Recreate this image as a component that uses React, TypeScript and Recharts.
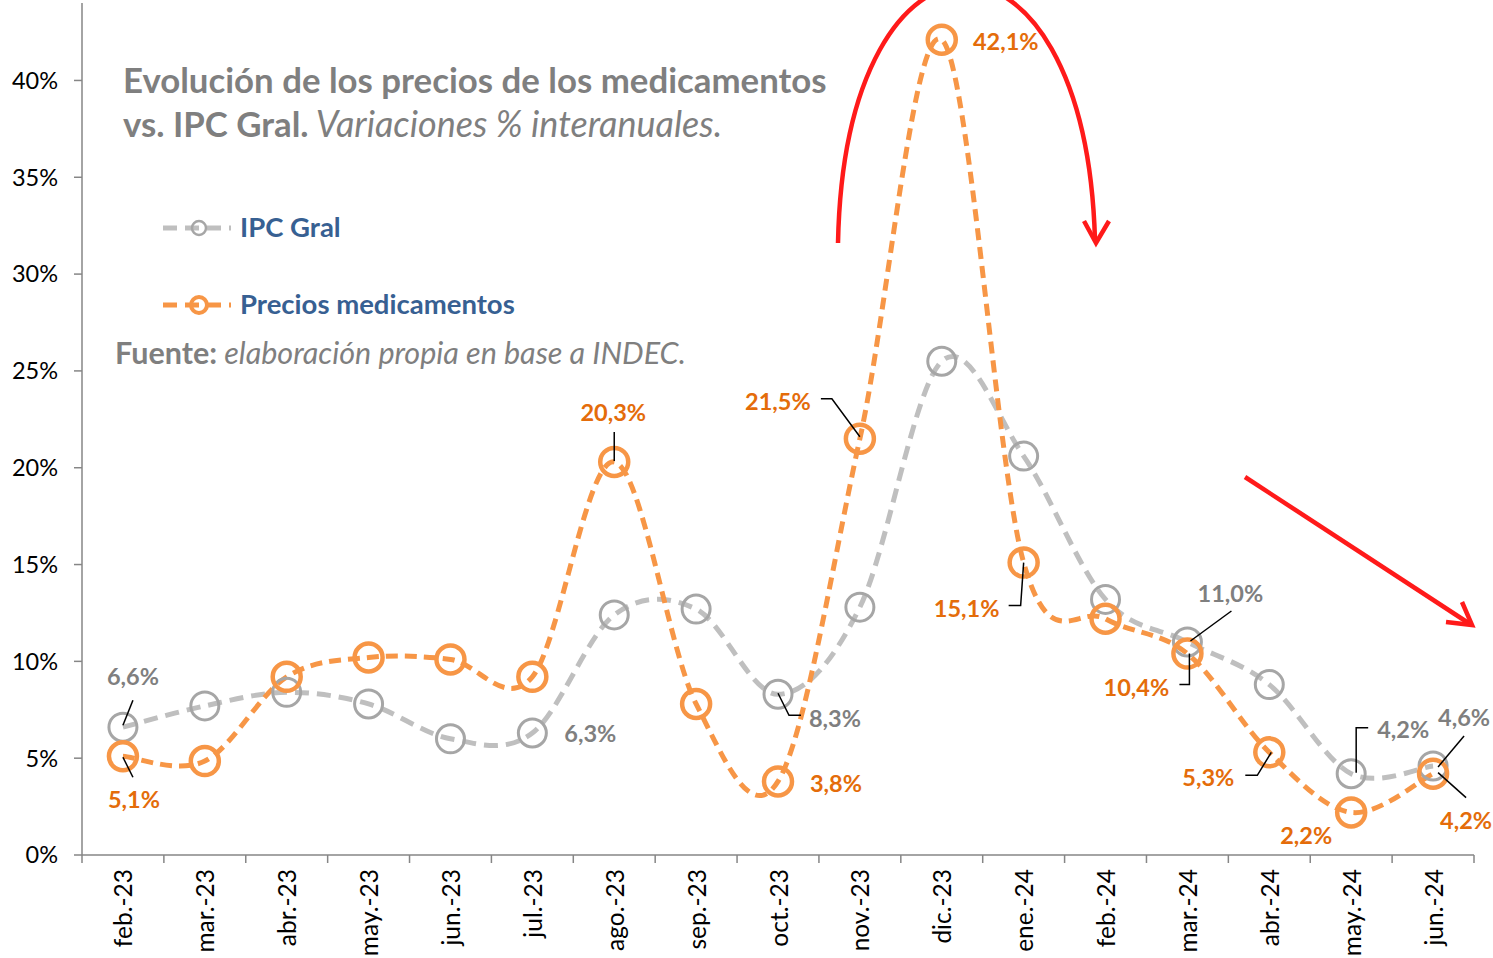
import React from 'react'
import { LineChart, Line, XAxis, YAxis, LabelList } from 'recharts'

const months = [
  'feb.-23', 'mar.-23', 'abr.-23', 'may.-23', 'jun.-23', 'jul.-23', 'ago.-23', 'sep.-23', 'oct.-23',
  'nov.-23', 'dic.-23', 'ene.-24', 'feb.-24', 'mar.-24', 'abr.-24', 'may.-24', 'jun.-24',
]
const ipcGral = [6.6, 7.7, 8.4, 7.8, 6.0, 6.3, 12.4, 12.7, 8.3, 12.8, 25.5, 20.6, 13.2, 11.0, 8.8, 4.2, 4.6]
const medicamentos = [5.1, 4.85, 9.2, 10.2, 10.1, 9.2, 20.3, 7.8, 3.8, 21.5, 42.1, 15.1, 12.2, 10.4, 5.3, 2.2, 4.2]
const yTicks = [0, 5, 10, 15, 20, 25, 30, 35, 40]

const data = months.map((m, i) => ({ month: m, ipc: ipcGral[i], med: medicamentos[i] }))

const W = 1493
const H = 958
const MARGIN = { top: 3, right: 19, left: 0, bottom: 0 }
const Y_AXIS_W = 82
const X_AXIS_H = 103
const BAND = (W - MARGIN.right - Y_AXIS_W) / months.length

const FONT = 'Lato, "Noto Sans", sans-serif'
const GRAY_LINE = '#BFBFBF'
const GRAY_DOT = '#A6A6A6'
const GRAY_TEXT = '#7F7F7F'
const ORANGE = '#F79646'
const ORANGE_TEXT = '#E46C0A'
const AXIS = '#868686'
const BLUE = '#376092'
const RED = '#FF1A1A'

// where each data label sits relative to its point, plus the leader line
type LabelPos = { dx: number; dy: number; leader?: [number, number][] }
const ipcLabels: Record<number, LabelPos> = {
  0: { dx: 10, dy: -51, leader: [[0, -2], [10, -27]] },
  5: { dx: 58, dy: 0 },
  8: { dx: 57, dy: 24, leader: [[0, -1], [11, 21], [23, 21]] },
  13: { dx: 43, dy: -49, leader: [[3, -1], [44, -31]] },
  15: { dx: 52, dy: -45, leader: [[5, -1], [5, -46], [17, -46]] },
  16: { dx: 31, dy: -49, leader: [[5, 1], [31, -30]] },
}
const medLabels: Record<number, LabelPos> = {
  0: { dx: 11, dy: 43, leader: [[0, 1], [10, 21]] },
  6: { dx: -1, dy: -50, leader: [[0, -1], [0, -30]] },
  8: { dx: 58, dy: 2 },
  9: { dx: -82, dy: -38, leader: [[0, -2], [-28, -40], [-39, -40]] },
  10: { dx: 64, dy: 1 },
  11: { dx: -57, dy: 45, leader: [[0, 0], [-3, 43], [-15, 43]] },
  13: { dx: -51, dy: 33, leader: [[2, 0], [2, 31], [-8, 31]] },
  14: { dx: -61, dy: 25, leader: [[2, 0], [-12, 23], [-24, 23]] },
  15: { dx: -45, dy: 23 },
  16: { dx: 33, dy: 46, leader: [[5, -1], [33, 24]] },
}

const fmt = (v: number) => `${v.toFixed(1).replace('.', ',')}%`

// Excel-style smoothed line (Catmull-Rom through every point)
function smoothCurve(context: any) {
  let pts: [number, number][] = []
  return {
    areaStart() {},
    areaEnd() {},
    lineStart() {
      pts = []
    },
    point(x: number, y: number) {
      pts.push([+x, +y])
    },
    lineEnd() {
      if (!pts.length) return
      context.moveTo(pts[0][0], pts[0][1])
      for (let i = 0; i < pts.length - 1; i++) {
        const p0 = pts[i - 1] || pts[i]
        const p1 = pts[i]
        const p2 = pts[i + 1]
        const p3 = pts[i + 2] || p2
        context.bezierCurveTo(
          p1[0] + (p2[0] - p0[0]) / 6,
          p1[1] + (p2[1] - p0[1]) / 6,
          p2[0] - (p3[0] - p1[0]) / 6,
          p2[1] - (p3[1] - p1[1]) / 6,
          p2[0],
          p2[1],
        )
      }
    },
  }
}

function makeDot(stroke: string, strokeWidth: number) {
  return (props: any) => (
    <circle
      key={`dot-${props.index}`}
      cx={props.cx}
      cy={props.cy}
      r={14}
      fill="none"
      stroke={stroke}
      strokeWidth={strokeWidth}
    />
  )
}

function makeLabel(cfg: Record<number, LabelPos>, color: string) {
  return (props: any) => {
    const { x, y, value, index } = props
    const c = cfg[index]
    if (!c) return null
    return (
      <g key={`lbl-${index}`}>
        {c.leader && (
          <polyline
            points={c.leader.map(([a, b]) => `${x + a},${y + b}`).join(' ')}
            fill="none"
            stroke="#000"
            strokeWidth={1.5}
          />
        )}
        <text
          x={x + c.dx}
          y={y + c.dy}
          textAnchor="middle"
          dominantBaseline="central"
          fontFamily={FONT}
          fontWeight={700}
          fontSize={23.5}
          fill={color}
        >
          {fmt(value)}
        </text>
      </g>
    )
  }
}

function MonthTick(props: any) {
  const { x, y, payload, index } = props
  return (
    <g>
      <line x1={x - BAND / 2} x2={x - BAND / 2} y1={y} y2={y + 8} stroke={AXIS} strokeWidth={1.5} />
      {index === months.length - 1 && (
        <line x1={x + BAND / 2} x2={x + BAND / 2} y1={y} y2={y + 8} stroke={AXIS} strokeWidth={1.5} />
      )}
      <text
        transform={`translate(${x},${y + 14}) rotate(-90)`}
        textAnchor="end"
        dominantBaseline="central"
        fontFamily={FONT}
        fontSize={24.5}
        fill="#000"
      >
        {payload.value}
      </text>
    </g>
  )
}

function Overlay() {
  return (
    <svg width={W} height={H} style={{ position: 'absolute', left: 0, top: 0, pointerEvents: 'none' }}>
      <g fontFamily={FONT} fill={GRAY_TEXT}>
        <text x={123} y={93} fontSize={34.8} fontWeight={700}>
          Evolución de los precios de los medicamentos
        </text>
        <text x={123} y={137} fontSize={34.8}>
          <tspan fontWeight={700}>vs. IPC Gral.</tspan>
          <tspan fontStyle="italic" fontSize={36}> Variaciones % interanuales.</tspan>
        </text>
        <text x={115} y={364} fontSize={30.5}>
          <tspan fontWeight={700}>Fuente:</tspan>
          <tspan fontStyle="italic"> elaboración propia en base a INDEC.</tspan>
        </text>
      </g>
      {/* legend */}
      <line x1={163} x2={231} y1={228} y2={228} stroke={GRAY_LINE} strokeWidth={5} strokeDasharray="14 8" />
      <circle cx={199} cy={228} r={7} fill="none" stroke={GRAY_DOT} strokeWidth={2.5} />
      <text x={240} y={237} fontFamily={FONT} fontSize={27.5} fontWeight={700} fill={BLUE}>IPC Gral</text>
      <line x1={163} x2={231} y1={305} y2={305} stroke={ORANGE} strokeWidth={5} strokeDasharray="14 8" />
      <circle cx={199} cy={305} r={8} fill="none" stroke={ORANGE} strokeWidth={4} />
      <text x={240} y={314} fontFamily={FONT} fontSize={27.5} fontWeight={700} fill={BLUE}>Precios medicamentos</text>
      {/* red arrows */}
      <g fill="none" stroke={RED} strokeWidth={4.5}>
        <path d="M 838 243 C 845 -100, 1085 -100, 1095 240" />
        <polyline points="1084,221 1096,243 1109,221" />
        <line x1={1245} y1={477} x2={1470} y2={624} />
        <polyline points="1446,622 1472,625 1462,602" />
      </g>
    </svg>
  )
}

export default function App() {
  return (
    <div style={{ position: 'absolute', left: 0, top: 0, width: W, height: H, background: '#fff' }}>
      <LineChart width={W} height={H} data={data} margin={MARGIN}>
        <XAxis
          dataKey="month"
          scale="band"
          interval={0}
          height={X_AXIS_H}
          axisLine={{ stroke: AXIS, strokeWidth: 1.5 }}
          tickLine={false}
          tickSize={0}
          tickMargin={0}
          tick={<MonthTick />}
        />
        <YAxis
          domain={[0, 44]}
          ticks={yTicks}
          width={Y_AXIS_W}
          tickFormatter={(v: number) => `${v}%`}
          axisLine={{ stroke: AXIS, strokeWidth: 1.5 }}
          tickLine={{ stroke: AXIS, strokeWidth: 1.5 }}
          tickSize={8}
          tickMargin={16}
          tick={{ fontFamily: FONT, fontSize: 23.5, fill: '#000' }}
        />
        <Line
          dataKey="ipc"
          type={smoothCurve as any}
          stroke={GRAY_LINE}
          strokeWidth={5}
          strokeDasharray="14 8"
          dot={makeDot(GRAY_DOT, 3)}
          activeDot={false}
          isAnimationActive={false}
        >
          <LabelList dataKey="ipc" content={makeLabel(ipcLabels, GRAY_TEXT)} />
        </Line>
        <Line
          dataKey="med"
          type={smoothCurve as any}
          stroke={ORANGE}
          strokeWidth={5}
          strokeDasharray="12 7"
          dot={makeDot(ORANGE, 4.5)}
          activeDot={false}
          isAnimationActive={false}
        >
          <LabelList dataKey="med" content={makeLabel(medLabels, ORANGE_TEXT)} />
        </Line>
      </LineChart>
      <Overlay />
    </div>
  )
}
